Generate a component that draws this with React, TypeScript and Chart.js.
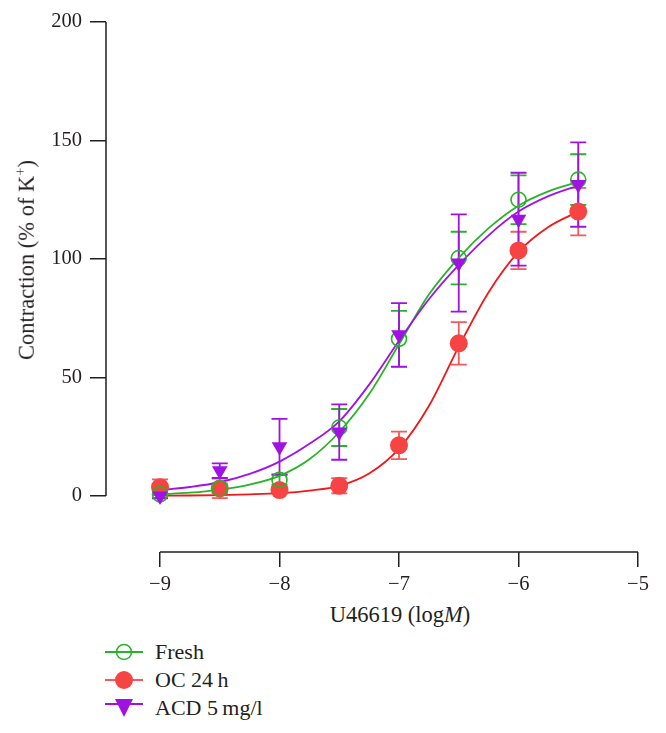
import React, { useEffect, useRef } from 'react';
import { Chart, registerables } from 'chart.js';

Chart.register(...registerables);

// Concentrations (log M)
const doses = [-9, -8.5, -8, -7.5, -7, -6.5, -6, -5.5];

// Means and SEM
const freshMean = [0.7, 3.2, 6.8, 28.9, 66.3, 100.4, 125, 133.5];
const freshSem = [1.5, 2, 2, 7.8, 11.8, 11.1, 10.3, 10.7];
const ocMean = [3.7, 3.2, 2.5, 4.3, 21.4, 64.4, 103.6, 120];
const ocSem = [3.3, 4.1, 1.5, 3.2, 5.8, 9, 7.9, 10];
const acdMean = [0, 10.7, 20.8, 27, 68, 98.3, 116.8, 131.4];
const acdSem = [1, 3.1, 11.7, 11.7, 13.4, 20.5, 19.6, 17.8];

// Fitted curves
const curveX = [-9, -8.75, -8.5, -8.25, -8, -7.75, -7.5, -7.25, -7, -6.75, -6.5, -6.25, -6, -5.75, -5.5];
const freshFit = [0.7, 1.4, 2.7, 4.8, 8.5, 15.5, 27, 43, 64, 85, 100.5, 113, 122.5, 128.5, 132.5];
const ocFit = [0.1, 0.2, 0.4, 0.7, 1.2, 2.3, 4.3, 9.5, 20, 38, 63, 86, 103, 113.5, 120];
const acdFit = [2.5, 3.8, 5.8, 9.3, 14.5, 22, 31.5, 47, 65.5, 83, 97.5, 110, 120, 126.5, 131];

// Axis ticks
const xTicks = [-9, -8, -7, -6, -5];
const yTicks = [0, 50, 100, 150, 200];

const GREEN = '#27b427';
const RED_LINE = '#f01818';
const RED_FILL = '#f64444';
const RED_BAR = '#f45a5a';
const PURPLE = '#a012e4';
const AXIS = '#231f20';
const FONT = '"Liberation Serif", "DejaVu Serif", serif';

const errorBars = {
  id: 'errorBars',
  beforeDatasetsDraw(chart: any) {
    const { ctx, scales } = chart;
    const x = scales.x;
    const y = scales.y;
    const series = [
      { mean: ocMean, sem: ocSem, color: RED_BAR },
      { mean: freshMean, sem: freshSem, color: GREEN },
      { mean: acdMean, sem: acdSem, color: PURPLE },
    ];
    ctx.save();
    ctx.lineWidth = 1.8;
    series.forEach((s) => {
      ctx.strokeStyle = s.color;
      doses.forEach((d, i) => {
        const px = x.getPixelForValue(d);
        const top = y.getPixelForValue(s.mean[i] + s.sem[i]);
        const bot = y.getPixelForValue(s.mean[i] - s.sem[i]);
        ctx.beginPath();
        ctx.moveTo(px, top);
        ctx.lineTo(px, bot);
        ctx.moveTo(px - 8, top);
        ctx.lineTo(px + 8, top);
        ctx.moveTo(px - 8, bot);
        ctx.lineTo(px + 8, bot);
        ctx.stroke();
      });
    });
    ctx.restore();
  },
};

const axisLines = {
  id: 'axisLines',
  afterDraw(chart: any) {
    const { ctx, chartArea, scales } = chart;
    const x = scales.x;
    const y = scales.y;
    ctx.save();
    ctx.strokeStyle = AXIS;
    ctx.lineWidth = 1.5;
    ctx.beginPath();
    ctx.moveTo(chartArea.left, y.getPixelForValue(yTicks[0]));
    ctx.lineTo(chartArea.left, y.getPixelForValue(yTicks[yTicks.length - 1]));
    ctx.moveTo(x.getPixelForValue(xTicks[0]), chartArea.bottom);
    ctx.lineTo(x.getPixelForValue(xTicks[xTicks.length - 1]), chartArea.bottom);
    ctx.stroke();
    ctx.restore();
  },
};

function pts(xs: number[], ys: number[]) {
  return xs.map((x, i) => ({ x, y: ys[i] }));
}

function LegendIcon({ kind }: { kind: 'fresh' | 'oc' | 'acd' }) {
  if (kind === 'fresh') {
    return (
      <svg width={40} height={20}>
        <line x1={1} y1={10} x2={39} y2={10} stroke={GREEN} strokeWidth={1.8} />
        <circle cx={20} cy={10} r={7.5} fill="none" stroke={GREEN} strokeWidth={1.6} />
      </svg>
    );
  }
  if (kind === 'oc') {
    return (
      <svg width={40} height={20}>
        <line x1={1} y1={10} x2={39} y2={10} stroke={RED_BAR} strokeWidth={1.8} />
        <circle cx={20} cy={10} r={9} fill={RED_FILL} />
      </svg>
    );
  }
  return (
    <svg width={40} height={22}>
      <line x1={1} y1={7} x2={39} y2={7} stroke={PURPLE} strokeWidth={1.8} />
      <polygon points="11,2 29,2 20,20" fill={PURPLE} />
    </svg>
  );
}

export default function App() {
  const ref = useRef<HTMLCanvasElement | null>(null);

  useEffect(() => {
    if (!ref.current) return;
    const chart = new Chart(ref.current, {
      type: 'scatter',
      data: {
        datasets: [
          {
            label: 'ACD 5 mg/l',
            data: pts(doses, acdMean),
            showLine: false,
            pointStyle: 'triangle',
            rotation: 180,
            pointRadius: 9,
            pointBackgroundColor: PURPLE,
            pointBorderColor: PURPLE,
            pointBorderWidth: 0,
            order: 1,
          } as any,
          {
            label: 'Fresh',
            data: pts(doses, freshMean),
            showLine: false,
            pointStyle: 'circle',
            pointRadius: 7.5,
            pointBackgroundColor: 'rgba(0,0,0,0)',
            pointBorderColor: GREEN,
            pointBorderWidth: 1.6,
            order: 2,
          },
          {
            label: 'OC 24 h',
            data: pts(doses, ocMean),
            showLine: false,
            pointStyle: 'circle',
            pointRadius: 9,
            pointBackgroundColor: RED_FILL,
            pointBorderColor: RED_FILL,
            pointBorderWidth: 0,
            order: 3,
          },
          {
            label: 'Fresh fit',
            data: pts(curveX, freshFit),
            showLine: true,
            pointRadius: 0,
            borderColor: GREEN,
            borderWidth: 1.8,
            cubicInterpolationMode: 'monotone',
            order: 5,
          },
          {
            label: 'ACD fit',
            data: pts(curveX, acdFit),
            showLine: true,
            pointRadius: 0,
            borderColor: PURPLE,
            borderWidth: 1.8,
            cubicInterpolationMode: 'monotone',
            order: 4,
          },
          {
            label: 'OC fit',
            data: pts(curveX, ocFit),
            showLine: true,
            pointRadius: 0,
            borderColor: RED_LINE,
            borderWidth: 1.8,
            cubicInterpolationMode: 'monotone',
            order: 6,
          },
        ],
      },
      options: {
        animation: false,
        responsive: false,
        maintainAspectRatio: false,
        layout: { padding: { top: 22, right: 28, left: 0, bottom: 0 } },
        plugins: { legend: { display: false }, tooltip: { enabled: false } },
        scales: {
          x: {
            type: 'linear',
            min: -9.452,
            max: -5,
            border: { display: false },
            grid: { drawOnChartArea: false, drawTicks: true, tickLength: 15, color: AXIS, lineWidth: 1.5 },
            ticks: {
              font: { family: FONT, size: 20.5 },
              color: AXIS,
              padding: 5,
              callback: (v: any) => (v < 0 ? '\u2212' + Math.abs(v) : String(v)),
            },
            afterBuildTicks: (s: any) => {
              s.ticks = xTicks.map((v) => ({ value: v }));
            },
            afterFit: (s: any) => {
              s.height = 48;
            },
          },
          y: {
            type: 'linear',
            min: -23.63,
            max: 200,
            border: { display: false },
            grid: { drawOnChartArea: false, drawTicks: true, tickLength: 16, color: AXIS, lineWidth: 1.5 },
            ticks: {
              font: { family: FONT, size: 20.5 },
              color: AXIS,
              padding: 8,
            },
            afterBuildTicks: (s: any) => {
              s.ticks = yTicks.map((v) => ({ value: v }));
            },
            afterFit: (s: any) => {
              s.width = 106;
            },
          },
        },
      },
      plugins: [errorBars, axisLines],
    });
    return () => chart.destroy();
  }, []);

  const text: React.CSSProperties = {
    position: 'absolute',
    fontFamily: FONT,
    fontSize: 22.5,
    color: AXIS,
    whiteSpace: 'nowrap',
    lineHeight: 1,
  };

  return (
    <div style={{ position: 'fixed', left: 0, top: 0, width: 666, height: 733, background: '#fff', overflow: 'hidden' }}>
      <canvas ref={ref} width={666} height={600} style={{ position: 'absolute', left: 0, top: 0, width: 666, height: 600 }} />
      <div style={{ ...text, left: 27, top: 260, transform: 'translate(-50%, -50%) rotate(-90deg)' }}>
        Contraction (% of K<sup style={{ fontSize: '0.65em', verticalAlign: '0.6em', lineHeight: 0 }}>+</sup>)
      </div>
      <div style={{ ...text, left: 400, top: 615, transform: 'translate(-50%, -50%)' }}>
        U46619 (log<i>M</i>)
      </div>
      {[
        { kind: 'fresh' as const, label: 'Fresh', y: 652 },
        { kind: 'oc' as const, label: 'OC 24\u2009h', y: 680 },
        { kind: 'acd' as const, label: 'ACD 5\u2009mg/l', y: 708 },
      ].map((r) => (
        <div key={r.label} style={{ position: 'absolute', left: 104, top: r.y, transform: 'translateY(-50%)', display: 'flex', alignItems: 'center' }}>
          <div style={{ width: 40, height: 22, display: 'flex', alignItems: 'center', justifyContent: 'center' }}>
            <LegendIcon kind={r.kind} />
          </div>
          <span style={{ fontFamily: FONT, fontSize: 22, color: AXIS, marginLeft: 11, lineHeight: 1 }}>{r.label}</span>
        </div>
      ))}
    </div>
  );
}
